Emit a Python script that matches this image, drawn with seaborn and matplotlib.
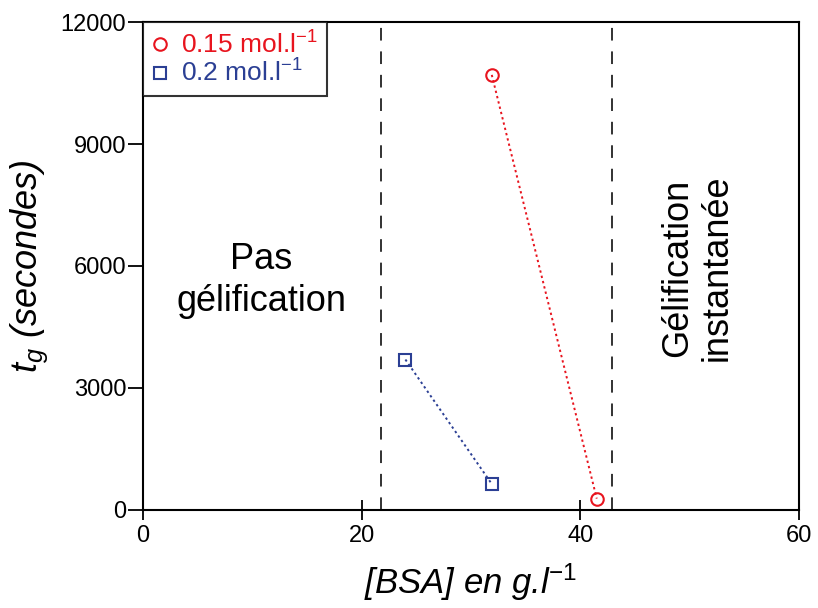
import matplotlib
matplotlib.use('Agg')
import matplotlib.pyplot as plt
import pandas as pd
import seaborn as sns

# Values
bsa_015 = [31.9, 41.5]
tg_015 = [10700, 280]
bsa_02 = [24.0, 31.9]
tg_02 = [3700, 640]
limits = [21.8, 42.9]
series_names = ['0.15 mol.l$^{-1}$', '0.2 mol.l$^{-1}$']
x_ticks = [0, 20, 40, 60]
y_ticks = [0, 3000, 6000, 9000, 12000]

df = pd.concat([
    pd.DataFrame({'bsa': bsa_015, 'tg': tg_015, 'serie': series_names[0]}),
    pd.DataFrame({'bsa': bsa_02, 'tg': tg_02, 'serie': series_names[1]}),
])

sns.set_style('white')
plt.rcParams['font.family'] = ['Liberation Sans', 'DejaVu Sans']
plt.rcParams['mathtext.fontset'] = 'custom'
plt.rcParams['mathtext.rm'] = 'Liberation Sans'
plt.rcParams['mathtext.it'] = 'Liberation Sans:italic'
plt.rcParams['text.color'] = 'black'
plt.rcParams['axes.labelcolor'] = 'black'

fig = plt.figure(figsize=(8.18, 6.08), dpi=100)
ax = fig.add_axes([0.1748, 0.1612, 0.802, 0.8026])

colors = {series_names[0]: '#e8141e', series_names[1]: '#2b3f94'}
markers = {series_names[0]: 'o', series_names[1]: 's'}
sns.lineplot(data=df, x='bsa', y='tg', hue='serie', style='serie',
             palette=colors, markers=markers, dashes=False, ax=ax,
             linestyle=(0, (1.2, 1.6)), linewidth=1.4,
             markersize=9, markerfacecolor='none', markeredgewidth=1.5,
             sort=False)
for line in ax.lines:
    line.set_markeredgecolor(line.get_color())
    line.set_markerfacecolor('none')

for xv in limits:
    ax.axvline(xv, color='#222222', linestyle=(0, (7, 6)), linewidth=1.3)

ax.text(10.8, 5650, 'Pas\ngélification', ha='center', va='center',
        fontsize=26, linespacing=1.25)
ax.text(50.7, 5950, 'Gélification\ninstantanée', ha='center', va='center',
        fontsize=26, rotation=90, linespacing=1.15)

ax.set_xlim(0, 60)
ax.set_ylim(0, 12000)
ax.set_xticks(x_ticks)
ax.set_yticks(y_ticks)
ax.tick_params(axis='y', direction='out', length=11, width=1.3, labelsize=17,
               colors='black', left=True, pad=1)
ax.tick_params(axis='x', direction='inout', length=14, width=1.3, labelsize=17,
               colors='black', bottom=True, pad=4)
for s in ax.spines.values():
    s.set_linewidth(1.5)
    s.set_color('black')

ax.set_xlabel('[BSA] en g.l$^{-1}$', fontsize=25, style='italic', labelpad=10)
ax.set_ylabel('$t_g$ (secondes)', fontsize=26, style='italic', labelpad=8)

handles, labels = ax.get_legend_handles_labels()
leg = ax.legend(handles, labels, loc='upper left', fontsize=19, frameon=True,
                fancybox=False, edgecolor='black', borderpad=0.35,
                handlelength=0.6, handletextpad=0.5, labelspacing=0.05,
                borderaxespad=0.0)
leg.get_frame().set_linewidth(1.5)
for line in leg.get_lines():
    line.set_linestyle('none')
for txt in leg.get_texts():
    txt.set_color(colors[txt.get_text()])

fig.savefig('out.png', dpi=100)
